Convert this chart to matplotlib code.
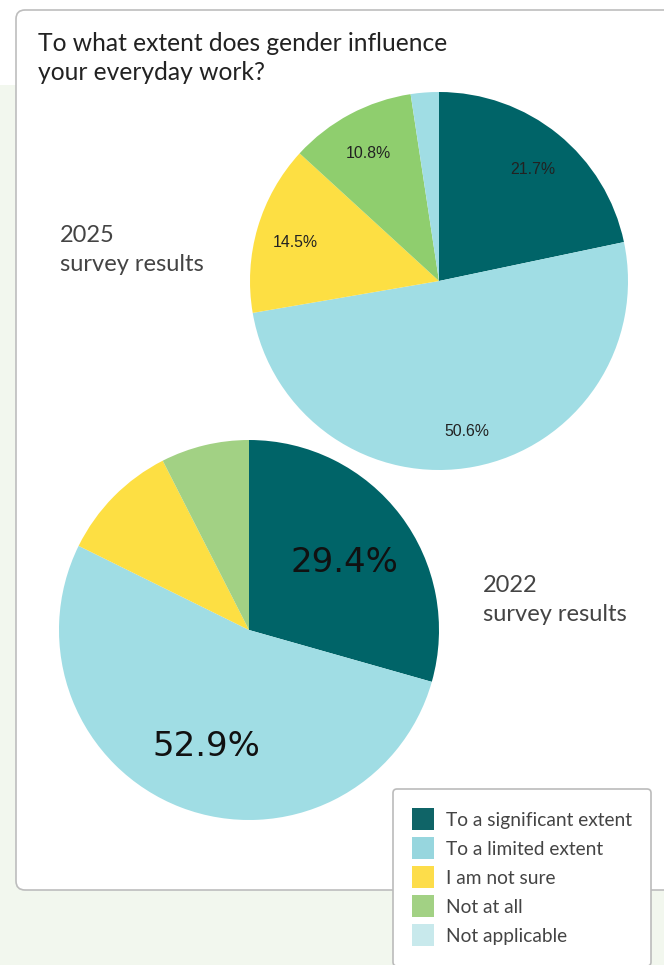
import matplotlib.pyplot as plt
from matplotlib.patches import FancyBboxPatch, Rectangle, Patch
from matplotlib.transforms import ScaledTranslation

# data
categories = ["To a significant extent", "To a limited extent", "I am not sure",
              "Not at all", "Not applicable"]
values_2025 = [21.7, 50.6, 14.5, 10.8, 2.4]
values_2022 = [29.4, 52.9, 10.2, 7.5, 0.0]

colors_2025 = ["#006468", "#a0dde4", "#fddf43", "#8fce6e", "#a0dde4"]
colors_2022 = ["#006468", "#a0dde4", "#fddf43", "#a2d184", "#a0dde4"]
legend_colors = ["#0f6467", "#97d6de", "#fddd4a", "#a2d184", "#c8e9ec"]

title = "To what extent does gender influence\nyour everyday work?"

W, H = 664, 965
fig = plt.figure(figsize=(W / 100, H / 100), dpi=100, facecolor="white")


def px_rect(x, y, w, h):
    # pixel box (top-left origin) -> figure fraction
    return [x / W, 1 - (y + h) / H, w / W, h / H]


# page background + card
bg = fig.add_axes([0, 0, 1, 1])
bg.set_xlim(0, W)
bg.set_ylim(H, 0)
bg.axis("off")
bg.add_patch(Rectangle((0, 85), W, H - 85, facecolor="#f2f7ee", edgecolor="none"))
bg.add_patch(FancyBboxPatch((16, 10), 720, 880, boxstyle="round,pad=0,rounding_size=9",
                            facecolor="white", edgecolor="#bdbdbd", linewidth=1.2))

bg.text(38, 32, title, fontsize=17.7, family="Lato", color="#222222",
        va="top", ha="left", linespacing=1.3)
bg.text(60, 225, "2025\nsurvey results", fontsize=17, family="Lato", color="#444444",
        va="top", ha="left", linespacing=1.45)
bg.text(483, 575, "2022\nsurvey results", fontsize=17, family="Lato", color="#444444",
        va="top", ha="left", linespacing=1.45)


def label_fmt(limit):
    return lambda p: f"{p:.1f}%" if p >= limit else ""


def nudge_down(ax, texts, px):
    for t in texts:
        t.set_transform(ax.transData + ScaledTranslation(0, -px / 100, fig.dpi_scale_trans))


# 2025 pie
r1 = 189
ax1 = fig.add_axes(px_rect(439 - r1, 281 - r1, 2 * r1, 2 * r1))
w1, t1, a1 = ax1.pie(values_2025, colors=colors_2025, startangle=90, counterclock=False,
                     autopct=label_fmt(5), pctdistance=0.79,
                     wedgeprops=dict(linewidth=0),
                     textprops=dict(fontsize=11.4, family="Liberation Sans", color="#222222"))
ax1.set_xlim(-1, 1)
ax1.set_ylim(-1, 1)
nudge_down(ax1, a1, 4)

# 2022 pie
r2 = 190
ax2 = fig.add_axes(px_rect(249 - r2, 630 - r2, 2 * r2, 2 * r2))
w2, t2, a2 = ax2.pie(values_2022, colors=colors_2022, startangle=90, counterclock=False,
                     autopct=label_fmt(20), pctdistance=0.63,
                     wedgeprops=dict(linewidth=0),
                     textprops=dict(fontsize=24.5, family="DejaVu Sans", color="#111111"))
ax2.set_xlim(-1, 1)
ax2.set_ylim(-1, 1)
nudge_down(ax2, a2, 5)

# legend
handles = [Patch(facecolor=c, edgecolor="none") for c in legend_colors]
leg = fig.legend(handles, categories, loc="upper left",
                 bbox_to_anchor=(393 / W, 1 - 789 / H), borderaxespad=0,
                 prop=dict(family="Lato", size=13.8), labelcolor="#444444",
                 handlelength=1.15, handleheight=1.4, handletextpad=0.62,
                 labelspacing=0.36, borderpad=1.0, fancybox=True,
                 framealpha=1, edgecolor="#bbbbbb")
leg.get_frame().set_linewidth(1.2)

fig.savefig("out.png", dpi=100, facecolor=fig.get_facecolor())
